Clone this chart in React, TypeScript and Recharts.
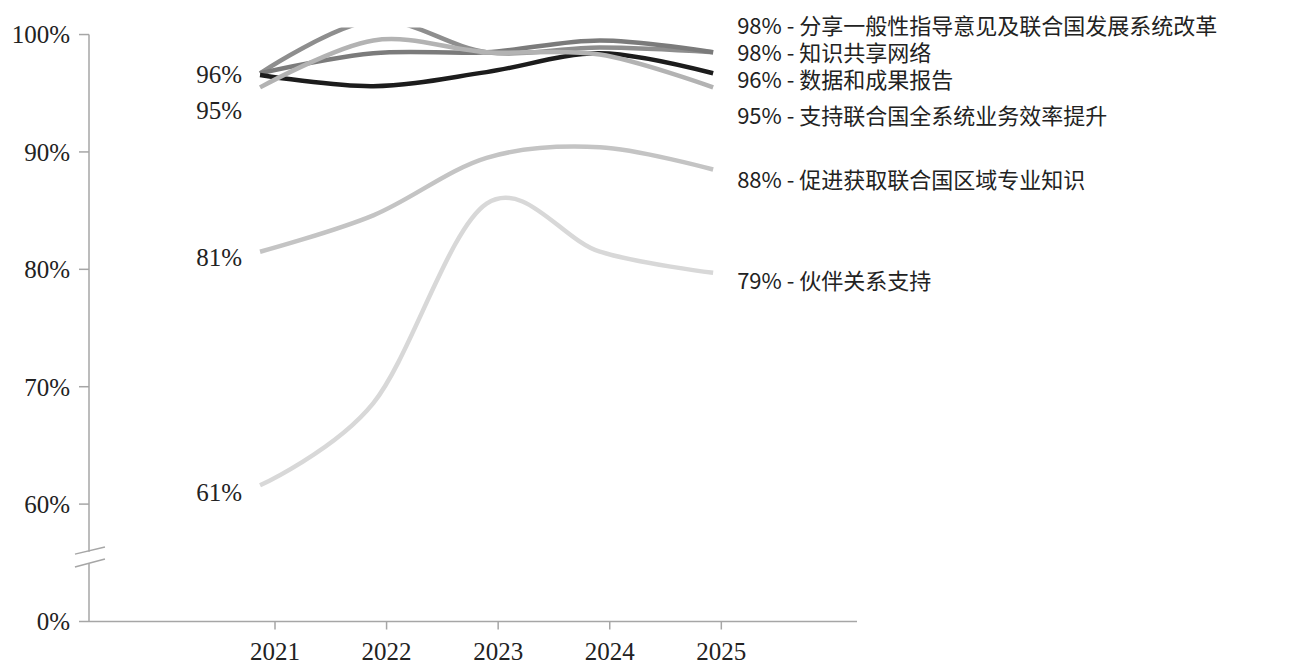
import React from "react";
import { LineChart, Line, XAxis, YAxis, ReferenceLine } from "recharts";

// survey years
const years = [2021, 2022, 2023, 2024, 2025];

const seriesNames = [
  "分享一般性指导意见及联合国发展系统改革",
  "知识共享网络",
  "数据和成果报告",
  "支持联合国全系统业务效率提升",
  "促进获取联合国区域专业知识",
  "伙伴关系支持",
];

// satisfaction, %
const guidance = [96.7, 101.2, 98.5, 98.9, 98.5];
const knowledgeNetwork = [96.7, 98.4, 98.5, 99.5, 98.5];
const dataReporting = [96.55, 95.6, 96.8, 98.4, 96.7];
const efficiency = [95.5, 99.5, 98.5, 98.3, 95.5];
const regionalExpertise = [81.5, 84.6, 89.5, 90.4, 88.5];
const partnerships = [61.6, 68.6, 85.6, 81.5, 79.7];

const startLabels = [null, null, 96, 95, 81, 61];
const endLabels = [98, 98, 96, 95, 88, 79];

// 50 sits below the axis break and is shown as "0%"
const yTicks = [50, 60, 70, 80, 90, 100];

const allSeries = [guidance, knowledgeNetwork, dataReporting, efficiency, regionalExpertise, partnerships];

const rows = years.map((year, i) => {
  const row: any = { year };
  allSeries.forEach((s, k) => {
    row[`s${k}`] = s[i];
  });
  return row;
});

const seriesStyle = [
  { color: "#8e8e8e", startDy: 0, endDy: -28 },
  { color: "#7b7b7b", startDy: 0, endDy: -1 },
  { color: "#1c1c1c", startDy: -0.5, endDy: 5 },
  { color: "#b3b3b3", startDy: 23.5, endDy: 26.5 },
  { color: "#c4c4c4", startDy: 5.5, endDy: 8 },
  { color: "#d8d8d8", startDy: 7, endDy: 6.5 },
];
const drawOrder = [4, 5, 0, 1, 2, 3];

const AXIS = "#a6a6a6";
const SERIF = "'Liberation Serif', 'Times New Roman', serif";
const CJK = "'Noto Sans CJK SC', 'Noto Sans', sans-serif";

// Excel-like smoothed line (cardinal spline, tension 0)
class SmoothCurve {
  _context: any;
  _k = 1 / 6;
  _line = NaN;
  _point = 0;
  _x0 = NaN; _x1 = NaN; _x2 = NaN;
  _y0 = NaN; _y1 = NaN; _y2 = NaN;
  constructor(context: any) {
    this._context = context;
  }
  _bez(x: number, y: number) {
    this._context.bezierCurveTo(
      this._x1 + this._k * (this._x2 - this._x0),
      this._y1 + this._k * (this._y2 - this._y0),
      this._x2 + this._k * (this._x1 - x),
      this._y2 + this._k * (this._y1 - y),
      this._x2,
      this._y2
    );
  }
  areaStart() { this._line = 0; }
  areaEnd() { this._line = NaN; }
  lineStart() {
    this._x0 = this._x1 = this._x2 = this._y0 = this._y1 = this._y2 = NaN;
    this._point = 0;
  }
  lineEnd() {
    if (this._point === 2) this._context.lineTo(this._x2, this._y2);
    else if (this._point === 3) this._bez(this._x1, this._y1);
    if (this._line || (this._line !== 0 && this._point === 1)) this._context.closePath();
    this._line = 1 - this._line;
  }
  point(x: number, y: number) {
    x = +x; y = +y;
    if (this._point === 0) {
      this._point = 1;
      if (this._line) this._context.lineTo(x, y);
      else this._context.moveTo(x, y);
    } else if (this._point === 1) {
      this._point = 2;
      this._x1 = x; this._y1 = y;
    } else {
      this._point = 3;
      this._bez(x, y);
    }
    this._x0 = this._x1; this._x1 = this._x2; this._x2 = x;
    this._y0 = this._y1; this._y1 = this._y2; this._y2 = y;
  }
}
const smoothCurve: any = (context: any) => new SmoothCurve(context);

const makeLabel = (i: number) => (props: any) => {
  const { x, y, index } = props;
  const st = seriesStyle[i];
  if (index === 0 && startLabels[i] !== null) {
    return (
      <text key={`start-${i}`} x={x - 18} y={y + st.startDy} textAnchor="end" dominantBaseline="central"
        fontFamily={SERIF} fontSize={25} fill="#222">
        {`${startLabels[i]}%`}
      </text>
    );
  }
  if (index === years.length - 1) {
    return (
      <text key={`end-${i}`} x={x + 24} y={y + st.endDy} textAnchor="start" dominantBaseline="central"
        fontFamily={CJK} fontSize={22} fill="#222">
        {`${endLabels[i]}% - ${seriesNames[i]}`}
      </text>
    );
  }
  return <g key={`none-${i}-${index}`} />;
};

const lineDomain = [2019.49, 2026.27];
const tickDomain = [2019.333, 2026.216];

export default function App() {
  const xl = lineDomain[0];
  return (
    <div style={{ position: "absolute", left: 0, top: 0, width: 1309, height: 665, background: "#fff" }}>
      <LineChart
        width={1309}
        height={665}
        data={rows}
        margin={{ top: 27.5, right: 452, bottom: 3.5, left: 0 }}
      >
        <XAxis
          xAxisId="ticks"
          dataKey="year"
          type="number"
          domain={tickDomain}
          ticks={years}
          interval={0}
          allowDataOverflow
          height={40}
          tickSize={8}
          tickMargin={13}
          axisLine={{ stroke: AXIS, strokeWidth: 1.5 }}
          tickLine={{ stroke: AXIS, strokeWidth: 1.5 }}
          tick={{ fontFamily: SERIF, fontSize: 25, fill: "#222" }}
        />
        <XAxis xAxisId="lines" dataKey="year" type="number" domain={lineDomain} hide height={0} allowDataOverflow />
        <YAxis
          domain={[50, 100.6]}
          ticks={yTicks}
          interval={0}
          allowDataOverflow
          width={89}
          axisLine={false}
          tickSize={10}
          tickMargin={9}
          tickLine={{ stroke: AXIS, strokeWidth: 1.5 }}
          tick={{ fontFamily: SERIF, fontSize: 25, fill: "#222" }}
          tickFormatter={(v: number) => (v === 50 ? "0%" : `${v}%`)}
        />
        {/* y axis line with a break between 0% and 60% */}
        <ReferenceLine xAxisId="lines" ifOverflow="visible" stroke={AXIS} strokeWidth={1.5}
          segment={[{ x: xl, y: 50 }, { x: xl, y: 54.95 }]} />
        <ReferenceLine xAxisId="lines" ifOverflow="visible" stroke={AXIS} strokeWidth={1.5}
          segment={[{ x: xl, y: 55.94 }, { x: xl, y: 100 }]} />
        <ReferenceLine xAxisId="lines" ifOverflow="visible" stroke={AXIS} strokeWidth={1.5}
          segment={[{ x: 2019.366, y: 55.74 }, { x: 2019.631, y: 56.34 }]} />
        <ReferenceLine xAxisId="lines" ifOverflow="visible" stroke={AXIS} strokeWidth={1.5}
          segment={[{ x: 2019.366, y: 54.64 }, { x: 2019.631, y: 55.32 }]} />
        {/* invisible carrier so the tick axis has data of its own */}
        <Line
          xAxisId="ticks"
          dataKey="s0"
          stroke="none"
          strokeOpacity={0}
          dot={false}
          activeDot={false}
          legendType="none"
          isAnimationActive={false}
        />
        {drawOrder.map((i) => (
          <Line
            key={i}
            xAxisId="lines"
            dataKey={`s${i}`}
            name={seriesNames[i]}
            type={smoothCurve}
            stroke={seriesStyle[i].color}
            strokeWidth={4.5}
            strokeLinecap="butt"
            dot={false}
            activeDot={false}
            isAnimationActive={false}
            label={makeLabel(i)}
          />
        ))}
      </LineChart>
    </div>
  );
}
